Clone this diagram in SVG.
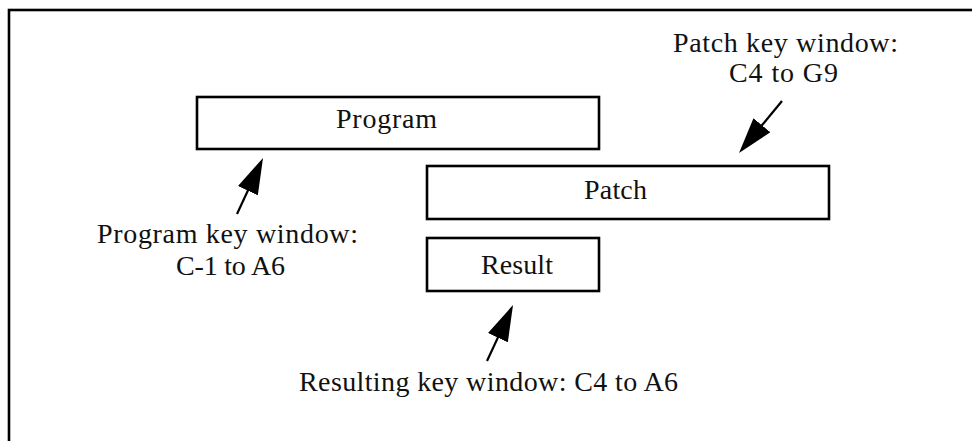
<svg xmlns="http://www.w3.org/2000/svg" width="972" height="441" viewBox="0 0 972 441">
<style>
  .frame { fill: none; stroke: #000; stroke-width: 2.6; }
  .box { fill: #fff; stroke: #000; stroke-width: 2.6; }
  .lbl { font-family: "Liberation Serif", "Times New Roman", serif; font-size: 28px; fill: #111; }
  .conn { stroke: #000; stroke-width: 2.2; fill: none; marker-end: url(#arrow); }
</style>
<defs>
  <marker id="arrow" viewBox="0 0 36 22" refX="26" refY="11" markerWidth="36" markerHeight="22" markerUnits="userSpaceOnUse" orient="auto">
    <path d="M0,0 L36,11 L0,22 Z" fill="#000"/>
  </marker>
</defs>
<rect width="972" height="441" fill="#fff"/>
<rect class="frame" x="9" y="10" width="1000" height="500"/>
<g id="program">
  <rect class="box" x="197" y="97" width="402" height="52"/>
  <text class="lbl" x="336" y="128" textLength="101" lengthAdjust="spacing">Program</text>
</g>
<g id="patch">
  <rect class="box" x="427" y="166" width="402" height="53"/>
  <text class="lbl" x="584" y="199" textLength="63" lengthAdjust="spacing">Patch</text>
</g>
<g id="result">
  <rect class="box" x="427" y="238" width="172" height="53"/>
  <text class="lbl" x="481" y="274" textLength="72" lengthAdjust="spacing">Result</text>
</g>
<g id="program-key-label">
  <text class="lbl" x="97" y="243" textLength="261" lengthAdjust="spacing">Program key window:</text>
  <text class="lbl" x="176" y="275" textLength="109" lengthAdjust="spacing">C-1 to A6</text>
</g>
<g id="patch-key-label">
  <text class="lbl" x="673" y="52" textLength="225" lengthAdjust="spacing">Patch key window:</text>
  <text class="lbl" x="729" y="82" textLength="109" lengthAdjust="spacing">C4 to G9</text>
</g>
<g id="result-key-label">
  <text class="lbl" x="299" y="391" textLength="379" lengthAdjust="spacing">Resulting key window: C4 to A6</text>
</g>
<g id="connectors">
  <line class="conn" x1="237" y1="214" x2="258.8" y2="167.1"/>
  <line class="conn" x1="782" y1="101" x2="745.4" y2="145.3"/>
  <line class="conn" x1="487" y1="361" x2="508.8" y2="314.1"/>
</g>
</svg>
